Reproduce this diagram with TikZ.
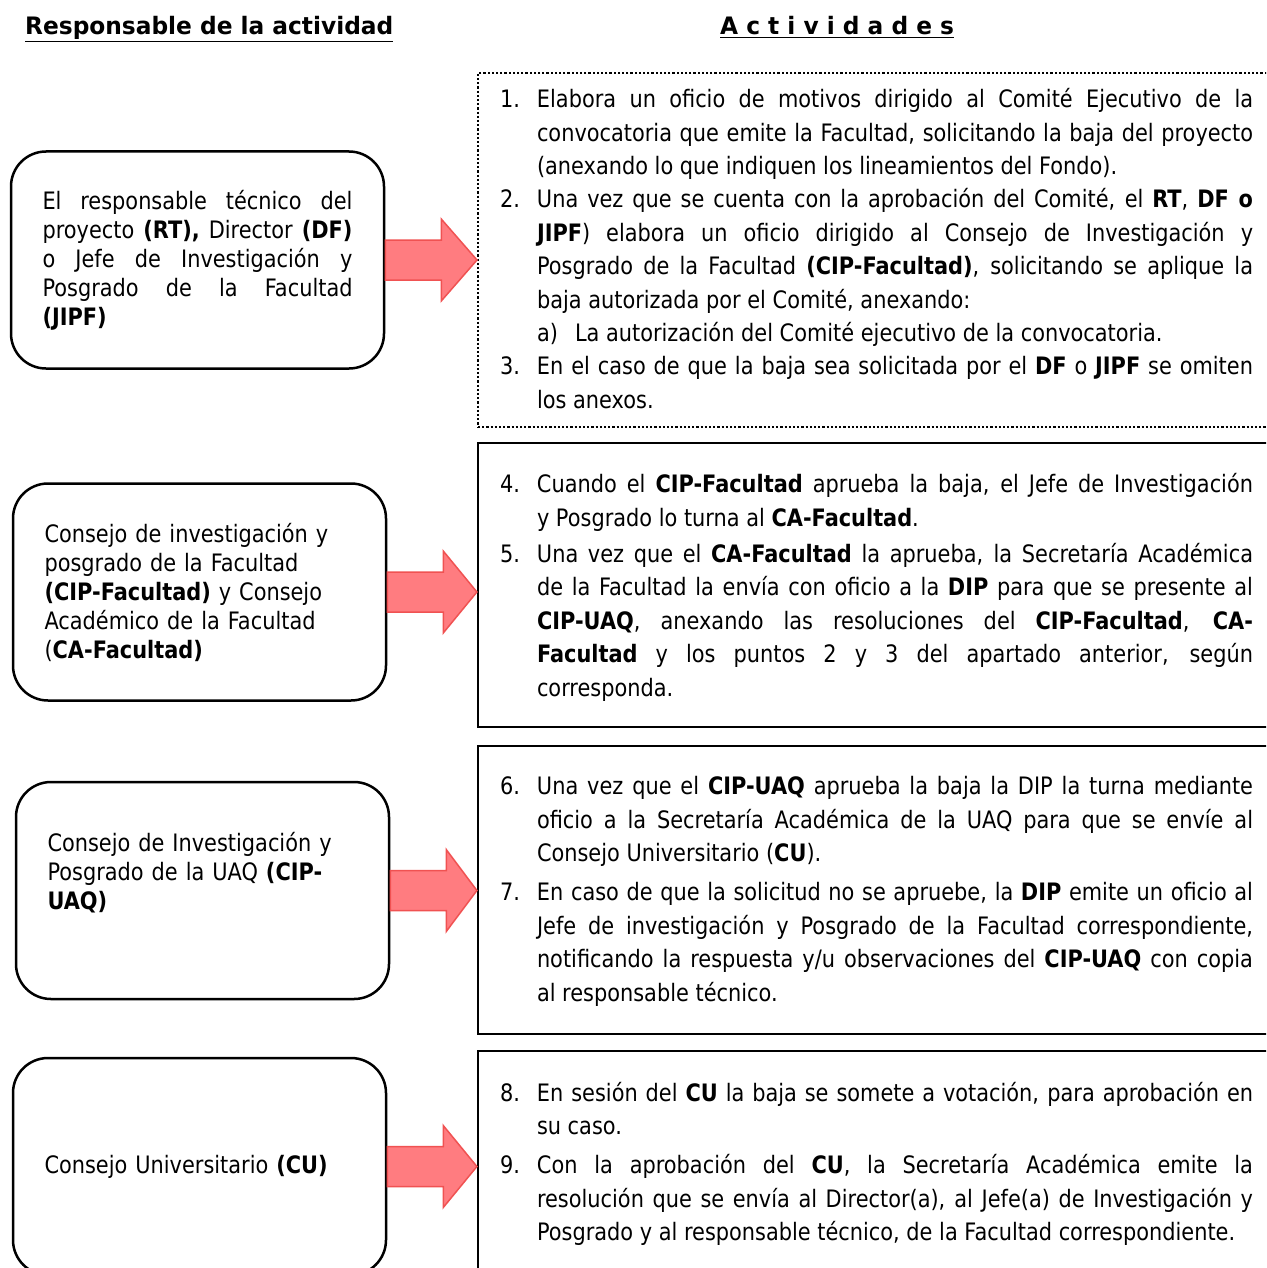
\documentclass[tikz,border=0pt]{standalone}
\usepackage{fontspec}
\setmainfont{DejaVu Sans}[FakeStretch=0.87]
\newfontfamily\hdrfont{DejaVu Sans}[FakeStretch=0.97]
\usetikzlibrary{calc}

\definecolor{flechafill}{RGB}{255,124,128}
\definecolor{flechaline}{RGB}{240,82,82}

\tikzset{
  titulo/.style={inner sep=0, font=\fontsize{24pt}{29pt}\hdrfont\bfseries},
  respbox/.style={draw=black, line width=2.5, rounded corners=35, minimum width=373, minimum height=217,
    text width=310, inner xsep=31.5, font=\fontsize{24pt}{29pt}\selectfont},
  actbox/.style={draw=black, line width=2.2, text width=753, inner xsep=22, inner ysep=0,
    align=justify, font=\fontsize{24pt}{33.4pt}\selectfont},
  flecha/.style={fill=flechafill, draw=flechaline, line width=1.5}
}

% numbered step inside the activity boxes
\newcommand{\paso}[2]{\par\noindent\hangindent=37pt\hangafter=1\makebox[37pt][l]{#1}#2\par}
% extra room under the last line of a box
\newcommand{\bajo}[1]{\rule[-#1]{0pt}{1pt}}
% block arrow from a responsible box to its activity box
\newcommand{\flecha}[2]{%
  \draw[flecha] ($(#1.east)+(0,-20)$) -- ($(#1.east)+(56,-20)$) -- ($(#1.east)+(56,-41)$)
    -- (#2.west |- #1.east) -- ($(#1.east)+(56,41)$) -- ($(#1.east)+(56,20)$) -- ($(#1.east)+(0,20)$) -- cycle;}

\begin{document}
\begin{tikzpicture}[x=1pt, y=-1pt]
  \useasboundingbox (0,0) rectangle (1266,1268);
  \clip (0,0) rectangle (1266,1268);
  % headers
  \node [titulo, anchor=base west] (hresp) at (25,35) {\underline{Responsable de la actividad}};
  \node [titulo, anchor=base west] (hact) at (720,35) {\underline{A c t i v i d a d e s}};
  % responsible boxes
  \node [respbox, align=justify] (resp1) at (197.5,260) {El responsable técnico del\linebreak
    proyecto \textbf{(RT),} Director \textbf{(DF)}\linebreak
    o Jefe de Investigación y\linebreak
    Posgrado de la Facultad\linebreak
    \textbf{(JIPF)}};
  \node [respbox, align=left] (resp2) at (199.5,592) {Consejo de investigación y\\
    posgrado de la Facultad\\
    \textbf{(CIP-Facultad)} y Consejo\\
    Académico de la Facultad\\
    (\textbf{CA-Facultad)}};
  \node [respbox, align=left] (resp3) at (202.5,890.5) {Consejo de Investigación y\\
    Posgrado de la UAQ \textbf{(CIP-}\\
    \textbf{UAQ)}\bajo{39pt}};
  \node [respbox, align=left] (resp4) at (199.5,1166.5) {Consejo Universitario \textbf{(CU)}};
  % activity box 1 (dotted)
  \node [actbox, dotted, line width=2, minimum height=354] (act1) at (876.5,250) {%
    \paso{1.}{Elabora un oficio de motivos dirigido al Comité Ejecutivo de la\linebreak
      convocatoria que emite la Facultad, solicitando la baja del proyecto\linebreak
      (anexando lo que indiquen los lineamientos del Fondo).}
    \paso{2.}{Una vez que se cuenta con la aprobación del Comité, el \textbf{RT}, \textbf{DF o}\linebreak
      \textbf{JIPF}) elabora un oficio dirigido al Consejo de Investigación y\linebreak
      Posgrado de la Facultad \textbf{(CIP-Facultad)}, solicitando se aplique la\linebreak
      baja autorizada por el Comité, anexando:}
    \noindent\hspace*{37pt}\makebox[38pt][l]{a)}La autorización del Comité ejecutivo de la convocatoria.\par
    \paso{3.}{En el caso de que la baja sea solicitada por el \textbf{DF} o \textbf{JIPF} se omiten\linebreak
      los anexos.\bajo{17.5pt}}};
  % activity box 2
  \node [actbox, minimum height=284] (act2) at (876.5,585) {\setlength{\parskip}{3pt}%
    \paso{4.}{Cuando el \textbf{CIP-Facultad} aprueba la baja, el Jefe de Investigación\linebreak
      y Posgrado lo turna al \textbf{CA-Facultad}.}
    \paso{5.}{Una vez que el \textbf{CA-Facultad} la aprueba, la Secretaría Académica\linebreak
      de la Facultad la envía con oficio a la \textbf{DIP} para que se presente al\linebreak
      \textbf{CIP-UAQ}, anexando las resoluciones del \textbf{CIP-Facultad}, \textbf{CA-}\linebreak
      \textbf{Facultad} y los puntos 2 y 3 del apartado anterior, según\linebreak
      corresponda.\bajo{17.5pt}}};
  % activity box 3
  \node [actbox, minimum height=288] (act3) at (876.5,890) {\setlength{\parskip}{6pt}%
    \paso{6.}{Una vez que el \textbf{CIP-UAQ} aprueba la baja la DIP la turna mediante\linebreak
      oficio a la Secretaría Académica de la UAQ para que se envíe al\linebreak
      Consejo Universitario (\textbf{CU}).}
    \paso{7.}{En caso de que la solicitud no se apruebe, la \textbf{DIP} emite un oficio al\linebreak
      Jefe de investigación y Posgrado de la Facultad correspondiente,\linebreak
      notificando la respuesta y/u observaciones del \textbf{CIP-UAQ} con copia\linebreak
      al responsable técnico.\bajo{23.5pt}}};
  % activity box 4
  \node [actbox, minimum height=224] (act4) at (876.5,1163) {\setlength{\parskip}{6pt}%
    \paso{8.}{En sesión del \textbf{CU} la baja se somete a votación, para aprobación en\linebreak
      su caso.}
    \paso{9.}{Con la aprobación del \textbf{CU}, la Secretaría Académica emite la\linebreak
      resolución que se envía al Director(a), al Jefe(a) de Investigación y\linebreak
      Posgrado y al responsable técnico, de la Facultad correspondiente.\bajo{23.5pt}}};
  % arrows
  \flecha{resp1}{act1}
  \flecha{resp2}{act2}
  \flecha{resp3}{act3}
  \flecha{resp4}{act4}
\end{tikzpicture}
\end{document}
